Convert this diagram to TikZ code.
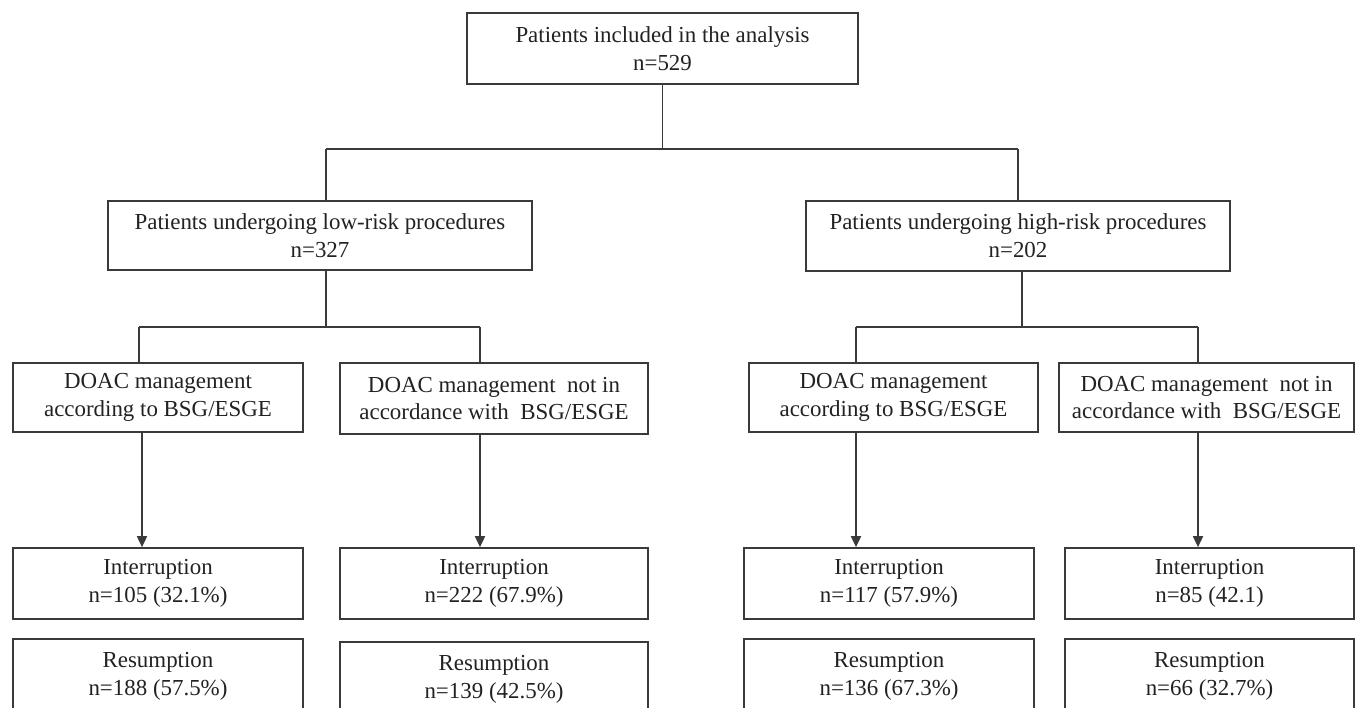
\documentclass[tikz,border=0pt]{standalone}
\usepackage{fontspec}
\setmainfont{Liberation Serif}
\usetikzlibrary{arrows.meta}
\definecolor{ln}{HTML}{3A3A3A}
\definecolor{tx}{HTML}{222222}
\begin{document}
\begin{tikzpicture}[x=1bp,y=-1bp,
  box/.style={draw=ln,line width=1.7bp,rectangle,align=center,text=tx,
    font=\fontsize{23}{28}\selectfont,inner sep=0pt},
  line/.style={draw=ln,line width=1.7bp},
  arr/.style={line,-{Triangle[length=11bp,width=10bp]}}]
\useasboundingbox (0,0) rectangle (1356,707);
\clip (0,0) rectangle (1356,707);
\fill[white] (0,0) rectangle (1356,707);
% level 0
\node[box,minimum width=391bp,minimum height=71bp] (top) at (662.5,48.5) {Patients included in the analysis\\n=529};
% level 1
\node[box,minimum width=424bp,minimum height=69bp] (low) at (320,235.5) {Patients undergoing low-risk procedures\\n=327};
\node[box,minimum width=424bp,minimum height=70bp] (high) at (1018,236) {Patients undergoing high-risk procedures\\n=202};
% level 2
\node[box,minimum width=290bp,minimum height=69bp] (d1) at (158,397.5) {DOAC management\\according to BSG/ESGE};
\node[box,minimum width=308bp,minimum height=71bp] (d2) at (494,398.5) {DOAC management\ \ not in\\accordance with\ \ BSG/ESGE};
\node[box,minimum width=289bp,minimum height=69bp] (d3) at (893.5,397.5) {DOAC management\\according to BSG/ESGE};
\node[box,minimum width=295bp,minimum height=69bp] (d4) at (1206.5,397.5) {DOAC management\ \ not in\\accordance with\ \ BSG/ESGE};
% level 3
\node[box,minimum width=290bp,minimum height=71bp] (i1) at (158,583.5) {Interruption\\n=105 (32.1\%)};
\node[box,minimum width=308bp,minimum height=71bp] (i2) at (494,583.5) {Interruption\\n=222 (67.9\%)};
\node[box,minimum width=290bp,minimum height=71bp] (i3) at (889,583.5) {Interruption\\n=117 (57.9\%)};
\node[box,minimum width=289bp,minimum height=71bp] (i4) at (1209.5,583.5) {Interruption\\n=85 (42.1)};
% level 4 (cut by the lower edge)
\node[box,minimum width=290bp,minimum height=74bp] (r1) at (158,676) {Resumption\\n=188 (57.5\%)};
\node[box,minimum width=308bp,minimum height=74bp] (r2) at (494,679) {Resumption\\n=139 (42.5\%)};
\node[box,minimum width=290bp,minimum height=74bp] (r3) at (889,676) {Resumption\\n=136 (67.3\%)};
\node[box,minimum width=289bp,minimum height=74bp] (r4) at (1209.5,676) {Resumption\\n=66 (32.7\%)};
% connectors level 0 -> 1
\coordinate (jA) at (326,149);
\coordinate (jB) at (1018,149);
\draw[line] (top.south) -- (top.south |- jA);
\draw[line] (jA) -- (jB);
\draw[line] (jA) -- (jA |- low.north);
\draw[line] (jB) -- (jB |- high.north);
% low branch
\coordinate (kL) at (326,327);
\coordinate (k1) at (139,327);
\coordinate (k2) at (480,327);
\draw[line] (kL |- low.south) -- (kL);
\draw[line] (k1) -- (k2);
\draw[line] (k1) -- (k1 |- d1.north);
\draw[line] (k2) -- (k2 |- d2.north);
% high branch
\coordinate (kH) at (1022,327);
\coordinate (k3) at (856,327);
\coordinate (k4) at (1198,327);
\draw[line] (kH |- high.south) -- (kH);
\draw[line] (k3) -- (k4);
\draw[line] (k3) -- (k3 |- d3.north);
\draw[line] (k4) -- (k4 |- d4.north);
% arrows
\coordinate (a1) at (142,0);
\coordinate (a2) at (480,0);
\coordinate (a3) at (856,0);
\coordinate (a4) at (1198,0);
\draw[arr] (a1 |- d1.south) -- (a1 |- i1.north);
\draw[arr] (a2 |- d2.south) -- (a2 |- i2.north);
\draw[arr] (a3 |- d3.south) -- (a3 |- i3.north);
\draw[arr] (a4 |- d4.south) -- (a4 |- i4.north);
\end{tikzpicture}
\end{document}
